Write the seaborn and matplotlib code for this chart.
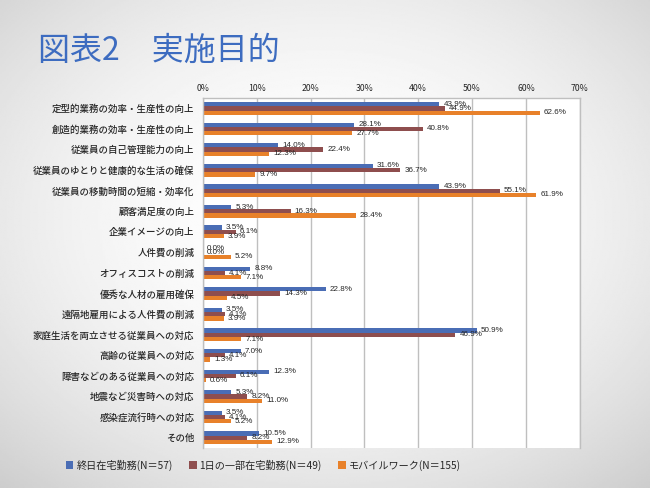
import numpy as np
import pandas as pd
import matplotlib
matplotlib.use("Agg")
import matplotlib.pyplot as plt
import seaborn as sns
from matplotlib.ticker import FuncFormatter

categories = [
    "定型的業務の効率・生産性の向上",
    "創造的業務の効率・生産性の向上",
    "従業員の自己管理能力の向上",
    "従業員のゆとりと健康的な生活の確保",
    "従業員の移動時間の短縮・効率化",
    "顧客満足度の向上",
    "企業イメージの向上",
    "人件費の削減",
    "オフィスコストの削減",
    "優秀な人材の雇用確保",
    "遠隔地雇用による人件費の削減",
    "家庭生活を両立させる従業員への対応",
    "高齢の従業員への対応",
    "障害などのある従業員への対応",
    "地震など災害時への対応",
    "感染症流行時への対応",
    "その他",
]
full_day = [43.9, 28.1, 14.0, 31.6, 43.9, 5.3, 3.5, 0.0, 8.8, 22.8, 3.5, 50.9, 7.0, 12.3, 5.3, 3.5, 10.5]
part_day = [44.9, 40.8, 22.4, 36.7, 55.1, 16.3, 6.1, 0.0, 4.1, 14.3, 4.1, 46.9, 4.1, 6.1, 8.2, 4.1, 8.2]
mobile = [62.6, 27.7, 12.3, 9.7, 61.9, 28.4, 3.9, 5.2, 7.1, 4.5, 3.9, 7.1, 1.3, 0.6, 11.0, 5.2, 12.9]
series_names = ["終日在宅勤務(N＝57)", "1日の一部在宅勤務(N＝49)", "モバイルワーク(N＝155)"]
colors = ["#4A6DB5", "#8E4E4E", "#E8812A"]

df = pd.concat([
    pd.DataFrame({"項目": categories, "割合": vals, "形態": name})
    for name, vals in zip(series_names, [full_day, part_day, mobile])
])

sns.set_style("white")
plt.rcParams["font.family"] = ["Noto Sans CJK JP", "DejaVu Sans"]

fig = plt.figure(figsize=(6.5, 4.88), dpi=100)

# background gradient
bg = fig.add_axes([0, 0, 1, 1], zorder=-10)
yy, xx = np.mgrid[0:1:300j, 0:1:400j]
r2 = ((xx - 0.5) / 0.75) ** 2 + ((yy - 0.45) / 0.75) ** 2
bg.imshow(1 - 0.2 * r2, cmap="gray", vmin=0, vmax=1, aspect="auto", extent=[0, 1, 0, 1])
bg.axis("off")

ax = fig.add_axes([0.312, 0.082, 0.580, 0.717])
ax.set_facecolor("white")
sns.barplot(data=df, y="項目", x="割合", hue="形態", palette=colors, orient="h",
            width=0.62, gap=0, ax=ax, legend=True, saturation=1,
            edgecolor="none", linewidth=0)

for cont, vals in zip(ax.containers, [full_day, part_day, mobile]):
    ax.bar_label(cont, labels=[f"{v:.1f}%" for v in vals], padding=3,
                 fontsize=5.8, family=["Liberation Sans", "DejaVu Sans"])

ax.set_xlim(0, 70)
ax.set_ylim(16.5, -0.5)
ax.set_xticks(range(0, 71, 10))
ax.xaxis.set_major_formatter(FuncFormatter(lambda v, p: f"{int(v)}%"))
ax.xaxis.tick_top()
ax.tick_params(axis="x", length=0, labelsize=6.3, pad=4)
ax.tick_params(axis="y", length=0, labelsize=6.8, pad=6)
for t in ax.get_yticklabels():
    t.set_fontweight("medium")
ax.grid(axis="x", color="#BFBFBF", linewidth=1)
ax.set_axisbelow(True)
ax.set_xlabel("")
ax.set_ylabel("")
for s in ["top", "left", "right"]:
    ax.spines[s].set_color("#BFBFBF")
    ax.spines[s].set_linewidth(1)
ax.spines["bottom"].set_visible(False)

handles, labels = ax.get_legend_handles_labels()
ax.legend_.remove()
fig.legend(handles, labels, loc="center", bbox_to_anchor=(0.405, 0.047), ncol=3,
           frameon=False, fontsize=7.3, handlelength=0.75, handleheight=0.75,
           handletextpad=0.3, columnspacing=1.6)

fig.text(0.058, 0.895, "図表2　実施目的", fontsize=23, color="#3D6CC0", va="center", ha="left")

fig.savefig("out.png", dpi=100)
